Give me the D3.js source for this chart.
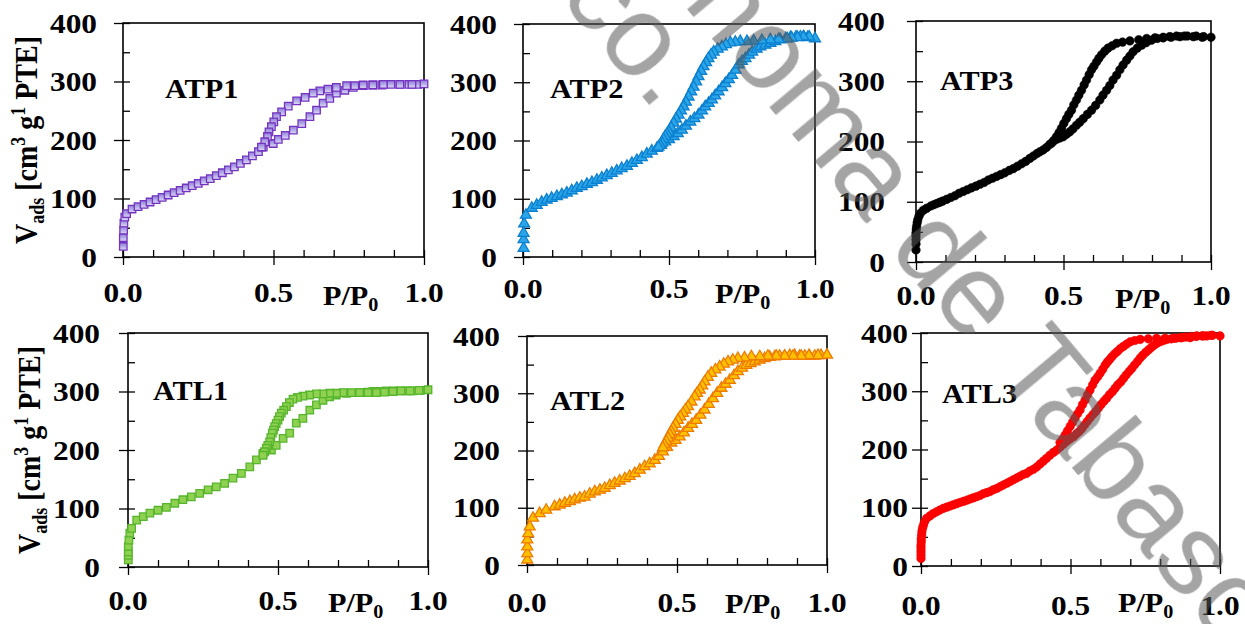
<!DOCTYPE html>
<html><head><meta charset="utf-8">
<script src="https://cdn.jsdelivr.net/npm/d3@7"></script>
<style>html,body{margin:0;padding:0;background:#fff;}svg{display:block;}</style>
</head><body>
<script>
// ---------------- DATA ----------------
const panelNames = ["ATP1","ATP2","ATP3","ATL1","ATL2","ATL3"];
const xTickLabels = ["0.0","0.5","1.0"];
const yTickLabels = ["0","100","200","300","400"];

const atp1AdsP = [0.001,0.001,0.002,0.003,0.006,0.012,0.03,0.05,0.07,0.09,0.11,0.13,0.15,0.17,0.19,0.21,0.23,0.25,0.27,0.29,0.31,0.33,0.35,0.37,0.39,0.41,0.43,0.45,0.466,0.499,0.516,0.539,0.566,0.594,0.621,0.643,0.665,0.687,0.709,0.737,0.765,0.798,0.83,0.86,0.89,0.92,0.95,0.98,1.0];
const atp1AdsV = [18,33,46,58,68,74,82,86,90,94,98,102,106,110,114,118,122,126,130,134,139,144,149,154,160,166,173,180,188,194,201,208,217,228,240,251,263,271,280,285,290,293,294,294,295,295,295,295,296];
const atp1DesP = [0.96,0.92,0.865,0.83,0.798,0.77,0.743,0.709,0.681,0.654,0.632,0.605,0.577,0.549,0.527,0.510,0.501,0.493,0.485,0.480,0.471,0.460];
const atp1DesV = [295,295,295,294,294,293,293,290,287,284,280,273,267,258,248,240,231,223,214,206,197,188];

const atp2AdsP = [0.002,0.002,0.002,0.004,0.01,0.03,0.047,0.064,0.081,0.098,0.116,0.133,0.15,0.167,0.184,0.201,0.219,0.236,0.253,0.27,0.287,0.304,0.321,0.338,0.356,0.373,0.39,0.407,0.424,0.441,0.459,0.473,0.487,0.50,0.516,0.53,0.544,0.558,0.573,0.587,0.601,0.613,0.624,0.636,0.647,0.658,0.67,0.682,0.693,0.705,0.716,0.728,0.739,0.75,0.762,0.774,0.785,0.80,0.813,0.83,0.847,0.864,0.881,0.90,0.916,0.935,0.95,0.962,0.975,1.0];
const atp2AdsV = [15,30,41,57,72,84,89,94,98,101,104,107,110,114,118,121,125,128,132,136,140,144,148,152,156,161,166,171,177,182,187,192,198,202,207,212,218,225,232,238,244,251,258,264,270,277,284,291,298,305,312,321,330,336,341,347,352,357,361,364,367,370,373,375,377,378,378,378,377,375];
const atp2DesP = [0.98,0.96,0.94,0.92,0.905,0.876,0.847,0.818,0.79,0.767,0.744,0.727,0.71,0.695,0.681,0.667,0.653,0.644,0.635,0.627,0.618,0.61,0.601,0.593,0.584,0.576,0.567,0.558,0.55,0.541,0.533,0.524,0.516,0.507,0.499,0.493,0.487,0.481,0.476,0.47,0.464];
const atp2DesV = [378,378,377,376,375,374,373,372,371,370,370,369,368,365,361,357,352,347,341,334,327,319,310,301,292,284,275,266,258,251,244,237,230,222,215,211,207,202,196,192,189];

const atp3AdsP = [0,0,0,0,0,0.001,0.002,0.004,0.006,0.01,0.015,0.025,0.036,0.05,0.06,0.07,0.08,0.09,0.104,0.118,0.132,0.146,0.16,0.174,0.188,0.203,0.217,0.231,0.245,0.259,0.273,0.287,0.301,0.316,0.33,0.344,0.358,0.372,0.386,0.398,0.41,0.42,0.431,0.442,0.453,0.465,0.477,0.488,0.499,0.51,0.521,0.532,0.544,0.555,0.567,0.581,0.595,0.609,0.623,0.634,0.646,0.657,0.668,0.68,0.691,0.702,0.714,0.725,0.736,0.75,0.765,0.78,0.798,0.818,0.838,0.86,0.883,0.91,0.94,0.97,1.0];
const atp3AdsV = [20,30,37,43,48,54,59,65,70,76,81,86,89,93,95,97,99,101,104,107,110,114,117,120,123,126,129,132,136,139,142,145,148,152,155,159,163,167,172,176,180,183,186,190,195,200,204,206,208,212,216,221,227,232,238,245,252,260,269,277,285,293,302,310,319,327,335,342,349,355,360,364,368,371,373,374,375,375,374,373,373];
const atp3DesP = [0.975,0.95,0.92,0.895,0.865,0.838,0.81,0.782,0.755,0.725,0.70,0.68,0.665,0.651,0.64,0.629,0.62,0.612,0.603,0.595,0.587,0.578,0.57,0.561,0.552,0.544,0.535,0.527,0.518,0.51,0.501,0.493,0.485,0.476,0.468,0.459];
const atp3DesV = [374,375,375,374,373,372,372,371,369,367,365,363,359,355,350,344,338,332,325,319,311,302,294,285,277,269,261,252,245,238,230,222,215,208,202,197];

const atl1AdsP = [0.001,0.001,0.001,0.001,0.003,0.006,0.012,0.029,0.051,0.073,0.1,0.128,0.156,0.183,0.211,0.239,0.267,0.294,0.322,0.35,0.378,0.406,0.428,0.45,0.478,0.494,0.517,0.539,0.561,0.583,0.606,0.628,0.65,0.672,0.694,0.728,0.772,0.80,0.817,0.84,0.861,0.885,0.906,0.93,0.95,0.975,1.0];
const atl1AdsV = [12,20,26,35,46,58,66,80,86,92,97,102,109,115,120,126,132,137,143,152,160,171,183,194,200,208,220,229,246,254,268,277,285,291,294,297,298,299,300,300,301,301,301,301,301,302,303];
const atl1DesP = [0.97,0.94,0.91,0.883,0.855,0.828,0.80,0.772,0.745,0.717,0.695,0.672,0.65,0.628,0.605,0.583,0.565,0.55,0.538,0.528,0.519,0.511,0.505,0.5,0.494,0.489,0.485,0.481,0.476,0.472,0.466,0.461,0.455,0.45];
const atl1DesV = [302,301,301,300,299,298,298,298,298,298,297,297,296,296,294,292,290,287,281,274,268,263,257,251,245,240,234,229,221,214,208,203,197,191];

const atl2AdsP = [0.001,0.001,0.001,0.001,0.004,0.009,0.02,0.042,0.064,0.092,0.109,0.126,0.143,0.159,0.176,0.192,0.209,0.226,0.243,0.259,0.276,0.292,0.309,0.326,0.342,0.359,0.376,0.392,0.409,0.426,0.44,0.453,0.467,0.481,0.495,0.509,0.523,0.537,0.55,0.564,0.578,0.592,0.606,0.62,0.634,0.648,0.662,0.676,0.69,0.703,0.717,0.731,0.745,0.759,0.775,0.792,0.809,0.826,0.842,0.859,0.876,0.892,0.909,0.926,0.942,0.959,0.98,1.0];
const atl2AdsV = [9,20,32,44,55,67,82,90,96,102,105,108,111,114,117,119,124,128,131,134,139,143,147,151,155,160,166,172,177,183,190,198,206,213,218,224,231,239,246,253,262,271,281,291,300,309,316,323,331,338,344,349,352,355,358,361,363,364,365,365,366,366,365,365,365,365,366,367];
const atl2DesP = [0.97,0.94,0.914,0.887,0.859,0.831,0.803,0.776,0.748,0.725,0.703,0.686,0.67,0.656,0.642,0.628,0.614,0.603,0.592,0.584,0.576,0.567,0.559,0.548,0.537,0.528,0.52,0.511,0.503,0.495,0.487,0.481,0.476,0.47,0.464,0.458,0.453];
const atl2DesV = [366,366,365,365,365,365,365,364,364,362,361,358,355,351,346,341,335,328,320,313,306,300,294,285,277,271,265,259,253,246,239,233,228,222,216,210,205];

const atl3AdsP = [0,0,0,0,0,0.001,0.001,0.002,0.003,0.005,0.008,0.012,0.019,0.03,0.041,0.052,0.063,0.075,0.086,0.097,0.108,0.119,0.13,0.142,0.153,0.164,0.175,0.186,0.197,0.208,0.22,0.231,0.242,0.253,0.264,0.275,0.287,0.298,0.309,0.32,0.331,0.342,0.353,0.364,0.376,0.387,0.398,0.409,0.42,0.431,0.443,0.454,0.465,0.476,0.487,0.498,0.51,0.52,0.529,0.538,0.547,0.556,0.565,0.575,0.584,0.593,0.602,0.612,0.621,0.63,0.64,0.649,0.658,0.668,0.677,0.686,0.696,0.705,0.714,0.724,0.733,0.742,0.752,0.761,0.77,0.779,0.788,0.8,0.811,0.822,0.837,0.852,0.867,0.885,0.904,0.922,0.94,0.956,0.975,1.0];
const atl3AdsV = [13,19,25,31,36,42,47,53,59,65,70,76,82,86,90,93,96,99,101,103,105,107,109,111,113,115,117,119,121,124,126,128,131,133,136,139,142,145,148,151,154,157,159,163,166,170,175,180,185,190,195,199,204,209,214,218,222,227,231,236,242,248,254,260,265,271,277,283,288,294,299,305,311,316,322,328,334,339,345,351,357,362,367,371,375,379,382,385,387,389,390,391,392,393,394,395,395,395,396,395];
const atl3DesP = [0.97,0.945,0.92,0.9,0.872,0.844,0.816,0.788,0.76,0.733,0.715,0.7,0.688,0.677,0.666,0.656,0.647,0.638,0.63,0.623,0.616,0.608,0.599,0.591,0.582,0.574,0.565,0.557,0.549,0.54,0.532,0.523,0.515,0.507,0.499,0.49,0.482,0.474,0.465];
const atl3DesV = [396,395,394,392,392,391,391,391,390,389,387,385,381,377,373,368,364,359,354,350,345,338,331,325,319,311,302,294,285,277,268,261,254,247,240,232,225,218,212];

const watermarkText = "Autónoma de Tabasco.";

// ---------------- LAYOUT / STYLE ----------------
const series = [
  {ads:[atp1AdsP,atp1AdsV], des:[atp1DesP,atp1DesV], shape:"square", fill:"url(#gPurple)", stroke:"#7433c0"},
  {ads:[atp2AdsP,atp2AdsV], des:[atp2DesP,atp2DesV], shape:"triangle", fill:"#2aa5e8", stroke:"#0b7fd0"},
  {ads:[atp3AdsP,atp3AdsV], des:[atp3DesP,atp3DesV], shape:"circle", fill:"#000", stroke:"#000"},
  {ads:[atl1AdsP,atl1AdsV], des:[atl1DesP,atl1DesV], shape:"square", fill:"#8fd150", stroke:"#56b52c"},
  {ads:[atl2AdsP,atl2AdsV], des:[atl2DesP,atl2DesV], shape:"triangle", fill:"#ffc000", stroke:"#ee7a00"},
  {ads:[atl3AdsP,atl3AdsV], des:[atl3DesP,atl3DesV], shape:"circle", fill:"#ff0000", stroke:"#ee0000"}
];
const layout = [
  {l:123,r:424,t:23,b:257, gap:26, xLabY:302, ppX:323, ppY:305, nameX:165, nameY:98, titleX:37},
  {l:523,r:815,t:24,b:257, gap:26, xLabY:298, ppX:715, ppY:303, nameX:550, nameY:98},
  {l:916,r:1211,t:21,b:262, gap:31, xLabY:305, ppX:1115, ppY:308, nameX:940, nameY:90},
  {l:128,r:428,t:333,b:567, gap:28, xLabY:610, ppX:328, ppY:612, nameX:153, nameY:400, titleX:40},
  {l:527,r:827,t:336,b:565, gap:27, xLabY:612, ppX:725, ppY:613, nameX:550, nameY:410},
  {l:921,r:1220,t:333,b:566, gap:13, xLabY:615, ppX:1118, ppY:612, nameX:942, nameY:403}
];
const SX = 1.12; // horizontal stretch of lettering
const FONT = "'Liberation Serif','Times New Roman',serif";

const svg = d3.select("body").append("svg").attr("width",1245).attr("height",624);
const defs = svg.append("defs");
const gp = defs.append("linearGradient").attr("id","gPurple").attr("x1",0).attr("y1",0).attr("x2",0).attr("y2",1);
gp.append("stop").attr("offset","0%").attr("stop-color","#8e7cd8");
gp.append("stop").attr("offset","100%").attr("stop-color","#dcdcf6");

function label(g, x, y, str, size, anchor){
  return g.append("text").attr("transform",`translate(${x},${y}) scale(${SX},1)`)
    .attr("font-family",FONT).attr("font-weight","bold").attr("font-size",size)
    .attr("text-anchor",anchor||"start").attr("fill","#000").text(str);
}

layout.forEach((L,i)=>{
  const S = series[i];
  const g = svg.append("g");
  const x = d3.scaleLinear().domain([0,1]).range([L.l,L.r]);
  const y = d3.scaleLinear().domain([0,400]).range([L.b,L.t]);

  g.append("g").attr("transform",`translate(${L.l},0)`)
    .call(d3.axisRight(y).tickValues(d3.range(0,401,50)).tickSize(7).tickFormat(""));
  g.append("g").attr("transform",`translate(${L.l},0)`)
    .call(d3.axisLeft(y).tickValues([0,100,200,300,400]).tickSize(9).tickFormat(""));
  g.append("g").attr("transform",`translate(0,${L.b})`)
    .call(d3.axisTop(x).tickValues(d3.range(0,11).map(d=>d/10)).tickSize(7).tickFormat(""));
  g.append("g").attr("transform",`translate(0,${L.b})`)
    .call(d3.axisBottom(x).tickValues([0,0.5,1]).tickSize(8).tickFormat(""));
  g.selectAll(".domain").remove();
  g.selectAll(".tick line").attr("stroke","#000").attr("stroke-width",1.3);
  g.append("rect").attr("x",L.l).attr("y",L.t).attr("width",L.r-L.l).attr("height",L.b-L.t)
    .attr("fill","none").attr("stroke","#000").attr("stroke-width",1.6);

  yTickLabels.forEach(t=>{
    label(g, L.l-L.gap, y(+t), t, 28, "end").attr("dy","0.34em");
  });
  xTickLabels.forEach(t=>{
    label(g, x(+t), L.xLabY, t, 28, "middle");
  });
  const pp = label(g, L.ppX, L.ppY, "P/P", 27, "start");
  pp.append("tspan").attr("font-size",18).attr("dy",6).text("0");
  label(g, L.nameX, L.nameY, panelNames[i], 27, "start");

  if(L.titleX){
    const cy = (L.t+L.b)/2;
    const tt = g.append("text").attr("transform",`translate(${L.titleX},${cy}) scale(${SX},1) rotate(-90)`)
      .attr("font-family",FONT).attr("font-weight","bold").attr("font-size",28).attr("text-anchor","middle");
    tt.append("tspan").text("V");
    tt.append("tspan").attr("font-size",18).attr("dy",6).text("ads");
    tt.append("tspan").attr("dy",-6).text(" [cm");
    tt.append("tspan").attr("font-size",18).attr("dy",-11).text("3");
    tt.append("tspan").attr("dy",11).text(" g");
    tt.append("tspan").attr("font-size",18).attr("dy",-11).text("1");
    tt.append("tspan").attr("dy",11).text(" PTE]");
  }

  const pts = [];
  [S.ads,S.des].forEach(([P,V])=>P.forEach((p,k)=>pts.push([p,V[k]])));
  const mg = g.append("g");
  if(S.shape==="circle"){
    mg.selectAll("circle").data(pts).join("circle")
      .attr("cx",d=>x(d[0])).attr("cy",d=>y(d[1])).attr("r",4.3)
      .attr("fill",S.fill).attr("stroke",S.stroke).attr("stroke-width",0.5);
  } else {
    const sym = S.shape==="square" ? d3.symbol(d3.symbolSquare,56) : d3.symbol(d3.symbolTriangle,52);
    mg.selectAll("path").data(pts).join("path")
      .attr("transform",d=>`translate(${x(d[0])},${y(d[1])})`).attr("d",sym)
      .attr("fill",S.fill).attr("stroke",S.stroke).attr("stroke-width",1.3);
  }
});

// watermark
const wm = svg.append("g").attr("fill","#5a5a5a").attr("opacity",0.55)
  .attr("font-family","'Liberation Sans',Arial,sans-serif").attr("font-size",115);
wm.append("text").attr("transform","translate(530,-178) rotate(50)").text(watermarkText);
wm.append("text").attr("transform","translate(656,113) rotate(50)").attr("text-anchor","end").text(watermarkText);
</script>
</body></html>
